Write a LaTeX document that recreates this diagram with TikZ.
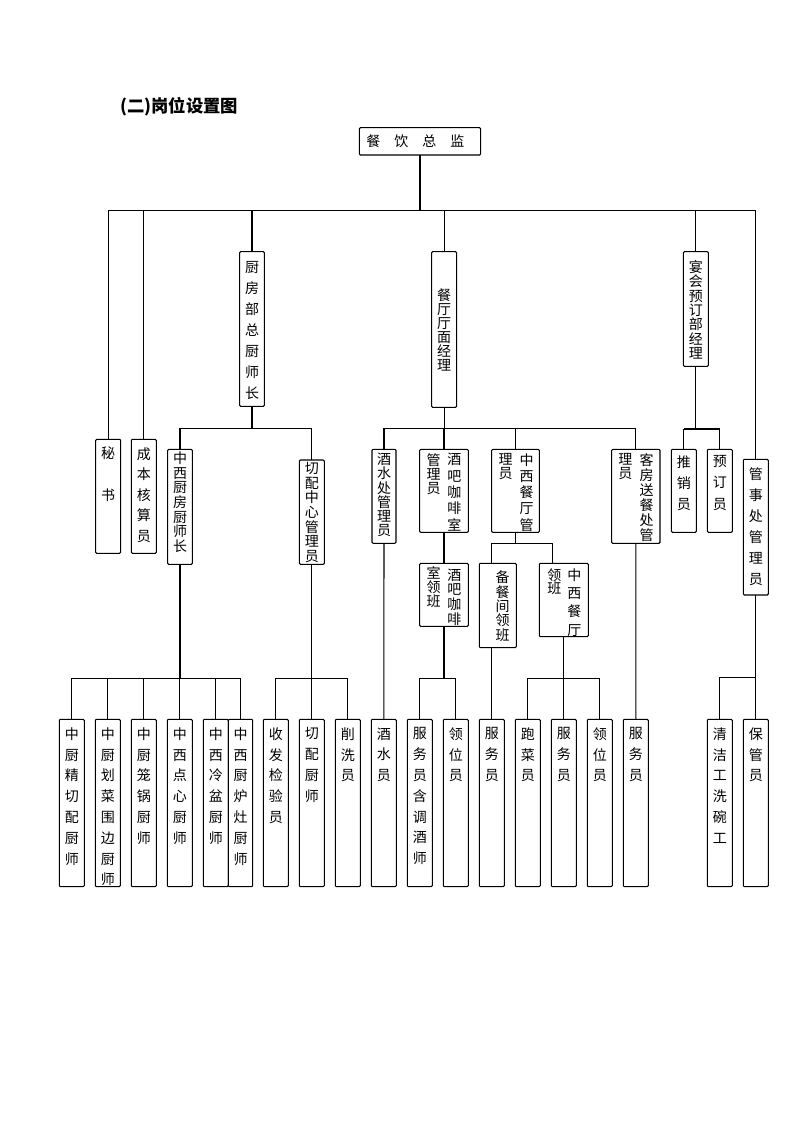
\documentclass[tikz,border=0pt]{standalone}
\usepackage{fontspec}
\newfontfamily\cjk{Noto Sans CJK SC}
\newcommand\mkbox[5]{\node[bxs, minimum width={(#4-#2)*0.75pt}, minimum height={(#5-#3)*0.75pt}] (#1) at ({(#2+#4)/2},{(#3+#5)/2}) {};}
\newcommand\gp{\hspace{10.5pt}}
\lineskiplimit=-100pt\relax
\begin{document}
\begin{tikzpicture}[x=0.75pt,y=-0.75pt,
  bxs/.style={draw, line width=0.8pt, rounded corners=0.8pt, inner sep=0pt, outer sep=0pt},
  vt/.style={font=\cjk\fontsize{10.5pt}{#1}\selectfont, align=center, inner sep=0pt, anchor=north},
  ln/.style={line width=0.8pt}]
\useasboundingbox (0,0) rectangle (794,1123);

% title
\node[font=\cjk\fontsize{13pt}{13pt}\selectfont\bfseries, anchor=west, inner sep=0pt] (title) at (120,107) {(二)岗位设置图};

% boxes
\mkbox{zj}{359.3}{127.7}{480.7}{155}
\mkbox{cf}{239.7}{251.7}{264.3}{406.3}
\mkbox{ct}{431.7}{251.7}{456.7}{407.3}
\mkbox{yh}{683.3}{251.7}{708.3}{366.3}
\mkbox{ms}{95.7}{439.3}{120.7}{553.3}
\mkbox{cb}{131.3}{439.3}{156.3}{553.3}
\mkbox{gs}{743.3}{459.3}{768.3}{595}
\mkbox{zxcf}{167.7}{449.3}{192.3}{564.3}
\mkbox{qp}{299.3}{460}{324.3}{564.3}
\mkbox{js}{372}{449.3}{396}{543.3}
\mkbox{jb}{419.7}{449.3}{468.3}{532.3}
\mkbox{zxc}{491.7}{449.3}{539.3}{532.3}
\mkbox{kf}{611.7}{449.3}{660}{543.3}
\mkbox{tx}{671.3}{449.3}{696.3}{532.3}
\mkbox{yd}{707.3}{449.3}{732.3}{532.3}
\mkbox{jbl}{419.7}{563.3}{468.3}{626.3}
\mkbox{bc}{479.3}{563.3}{516.3}{647.7}
\mkbox{zxl}{539.3}{563.3}{588.3}{636.7}
\mkbox{b1}{59.3}{719.3}{84.3}{886.7}
\mkbox{b2}{95.3}{719.3}{120.3}{886.7}
\mkbox{b3}{131.3}{719.3}{156.3}{886.7}
\mkbox{b4}{167.3}{719.3}{192.3}{886.7}
\mkbox{b5}{203.3}{719.3}{228.3}{886.7}
\mkbox{b6}{228.3}{719.3}{252.7}{886.7}
\mkbox{b7}{263.3}{719.3}{288.3}{886.7}
\mkbox{b8}{299.3}{719.3}{324.3}{886.7}
\mkbox{b9}{335.3}{719.3}{360.3}{886.7}
\mkbox{b10}{371.3}{719.3}{396.3}{886.7}
\mkbox{b11}{407.3}{719.3}{432.3}{886.7}
\mkbox{b12}{443.3}{719.3}{468.3}{886.7}
\mkbox{b13}{479.3}{719.3}{504.3}{886.7}
\mkbox{b14}{515.3}{719.3}{540.3}{886.7}
\mkbox{b15}{551.3}{719.3}{576.3}{886.7}
\mkbox{b16}{587.3}{719.3}{612.3}{886.7}
\mkbox{b17}{623.3}{719.3}{648.3}{886.7}
\mkbox{b18}{707.3}{719.3}{732.3}{886.7}
\mkbox{b19}{743.3}{719.3}{768.3}{886.7}

% texts
\node[font=\cjk\fontsize{10.5pt}{10.5pt}\selectfont, inner sep=0pt] at ([xshift=-3.5pt]zj.center) {餐\gp 饮\gp 总\gp 监};
\node[vt=15.75pt] at ([yshift=-6.75pt]cf.north) {厨\\房\\部\\总\\厨\\师\\长};
\node[vt=10.5pt, anchor=center] at (ct.center) {餐\\厅\\厅\\面\\经\\理};
\node[vt=10.8pt] at ([yshift=-6.2pt]yh.north) {宴\\会\\预\\订\\部\\经\\理};
\node[vt=31.5pt] at ([yshift=-5pt]ms.north) {秘\\书};
\node[vt=15.4pt] at ([yshift=-5.8pt]cb.north) {成\\本\\核\\算\\员};
\node[vt=15.75pt] at ([yshift=-6pt]gs.north) {管\\事\\处\\管\\理\\员};
\node[vt=11pt] at ([yshift=-1.7pt]zxcf.north) {中\\西\\厨\\房\\厨\\师\\长};
\node[vt=10.95pt] at ([yshift=-1.7pt]qp.north) {切\\配\\中\\心\\管\\理\\员};
\node[vt=10.6pt] at ([yshift=-2.8pt]js.north) {酒\\水\\处\\管\\理\\员};
\node[vt=12.2pt] at ([xshift=7.7pt,yshift=-2.9pt]jb.north) {酒\\吧\\咖\\啡\\室};
\node[vt=10.5pt] at ([xshift=-7.7pt,yshift=-2.9pt]jb.north) {管\\理\\员};
\node[vt=12.2pt] at ([xshift=8.25pt,yshift=-2.9pt]zxc.north) {中\\西\\餐\\厅\\管};
\node[vt=10.5pt] at ([xshift=-7.5pt,yshift=-2.9pt]zxc.north) {理\\员};
\node[vt=11.25pt] at ([xshift=8.1pt,yshift=-2.9pt]kf.north) {客\\房\\送\\餐\\处\\管};
\node[vt=10.5pt] at ([xshift=-7.95pt,yshift=-2.9pt]kf.north) {理\\员};
\node[vt=16pt] at ([yshift=-4.3pt]tx.north) {推\\销\\员};
\node[vt=16pt] at ([yshift=-4.3pt]yd.north) {预\\订\\员};
\node[vt=11pt] at ([xshift=7.7pt,yshift=-3.7pt]jbl.north) {酒\\吧\\咖\\啡};
\node[vt=10.6pt] at ([xshift=-7.7pt,yshift=-2.4pt]jbl.north) {室\\领\\班};
\node[vt=10.8pt] at ([xshift=3.7pt,yshift=-5.5pt]bc.north) {备\\餐\\间\\领\\班};
\node[vt=13.75pt] at ([xshift=8pt,yshift=-3.7pt]zxl.north) {中\\西\\餐\\厅};
\node[vt=10pt] at ([xshift=-7pt,yshift=-3.7pt]zxl.north) {领\\班};
\node[vt=15.6pt] at ([yshift=-6pt]b1.north) {中\\厨\\精\\切\\配\\厨\\师};
\node[vt=15.6pt] at ([yshift=-6pt]b2.north) {中\\厨\\划\\菜\\围\\边\\厨\\师};
\node[vt=15.6pt] at ([yshift=-6pt]b3.north) {中\\厨\\笼\\锅\\厨\\师};
\node[vt=15.6pt] at ([yshift=-6pt]b4.north) {中\\西\\点\\心\\厨\\师};
\node[vt=15.6pt] at ([yshift=-6pt]b5.north) {中\\西\\冷\\盆\\厨\\师};
\node[vt=15.6pt] at ([yshift=-6pt]b6.north) {中\\西\\厨\\炉\\灶\\厨\\师};
\node[vt=15.6pt] at ([yshift=-6pt]b7.north) {收\\发\\检\\验\\员};
\node[vt=15.6pt] at ([yshift=-6pt]b8.north) {切\\配\\厨\\师};
\node[vt=15.6pt] at ([yshift=-6pt]b9.north) {削\\洗\\员};
\node[vt=15.6pt] at ([yshift=-6pt]b10.north) {酒\\水\\员};
\node[vt=15.6pt] at ([yshift=-6pt]b11.north) {服\\务\\员\\含\\调\\酒\\师};
\node[vt=15.6pt] at ([yshift=-6pt]b12.north) {领\\位\\员};
\node[vt=15.6pt] at ([yshift=-6pt]b13.north) {服\\务\\员};
\node[vt=15.6pt] at ([yshift=-6pt]b14.north) {跑\\菜\\员};
\node[vt=15.6pt] at ([yshift=-6pt]b15.north) {服\\务\\员};
\node[vt=15.6pt] at ([yshift=-6pt]b16.north) {领\\位\\员};
\node[vt=15.6pt] at ([yshift=-6pt]b17.north) {服\\务\\员};
\node[vt=15.6pt] at ([yshift=-6pt]b18.north) {清\\洁\\工\\洗\\碗\\工};
\node[vt=15.6pt] at ([yshift=-6pt]b19.north) {保\\管\\员};

% bus levels
\coordinate (L1) at (0,210.3);
\coordinate (L2) at (0,428.3);
\coordinate (L2y) at (0,429);
\coordinate (L3) at (0,543.3);
\coordinate (L4) at (0,678.3);
\coordinate (L4g) at (0,677.3);
\coordinate (zq) at ([xshift=-8.6pt]zxl.north);

% connectors
\draw[ln] (zj.south) -- (zj.south |- L1);
\draw[ln] (ms.north |- L1) -- (gs.north |- L1);
\foreach \n in {ms,cb,cf,ct,yh,gs} \draw[ln] (\n.north |- L1) -- (\n.north);

\draw[ln] (cf.south) -- (cf.south |- L2);
\draw[ln] (zxcf.north |- L2) -- (qp.north |- L2);
\foreach \n in {zxcf,qp} \draw[ln] (\n.north |- L2) -- (\n.north);
\draw[ln] (zxcf.south) -- (zxcf.south |- L4);
\draw[ln] (b1.north |- L4) -- (b6.north |- L4);
\foreach \n in {b1,b2,b3,b4,b5,b6} \draw[ln] (\n.north |- L4) -- (\n.north);
\draw[ln] (qp.south) -- (qp.south |- L4);
\draw[ln] (b7.north |- L4) -- (b9.north |- L4);
\foreach \n in {b7,b8,b9} \draw[ln] (\n.north |- L4) -- (\n.north);

\draw[ln] (ct.south) -- (ct.south |- L2);
\draw[ln] (js.north |- L2) -- (kf.north |- L2);
\foreach \n in {js,jb,zxc,kf} \draw[ln] (\n.north |- L2) -- (\n.north);
\draw[ln] (js.south) -- (b10.north);
\draw[ln] (jb.south) -- (jbl.north);
\draw[ln] (jbl.south) -- (jbl.south |- L4);
\draw[ln] (b11.north |- L4) -- (b12.north |- L4);
\foreach \n in {b11,b12} \draw[ln] (\n.north |- L4) -- (\n.north);
\draw[ln] (zxc.south) -- (zxc.south |- L3);
\draw[ln] (b13.north |- L3) -- (zq |- L3);
\draw[ln] (b13.north |- L3) -- (b13.north |- bc.north);
\draw[ln] (b13.north |- bc.south) -- (b13.north);
\draw[ln] (zq |- L3) -- (zq);
\draw[ln] (zxl.south) -- (zxl.south |- L4);
\draw[ln] (b14.north |- L4) -- (b16.north |- L4);
\foreach \n in {b14,b15,b16} \draw[ln] (\n.north |- L4) -- (\n.north);
\draw[ln] (kf.south) -- (b17.north);

\draw[ln] (yh.south) -- (yh.south |- L2y);
\draw[ln] (tx.north |- L2y) -- (yd.north |- L2y);
\foreach \n in {tx,yd} \draw[ln] (\n.north |- L2y) -- (\n.north);

\draw[ln] (gs.south) -- (gs.south |- L4g);
\draw[ln] (b18.north |- L4g) -- (b19.north |- L4g);
\foreach \n in {b18,b19} \draw[ln] (\n.north |- L4g) -- (\n.north);
\end{tikzpicture}
\end{document}
